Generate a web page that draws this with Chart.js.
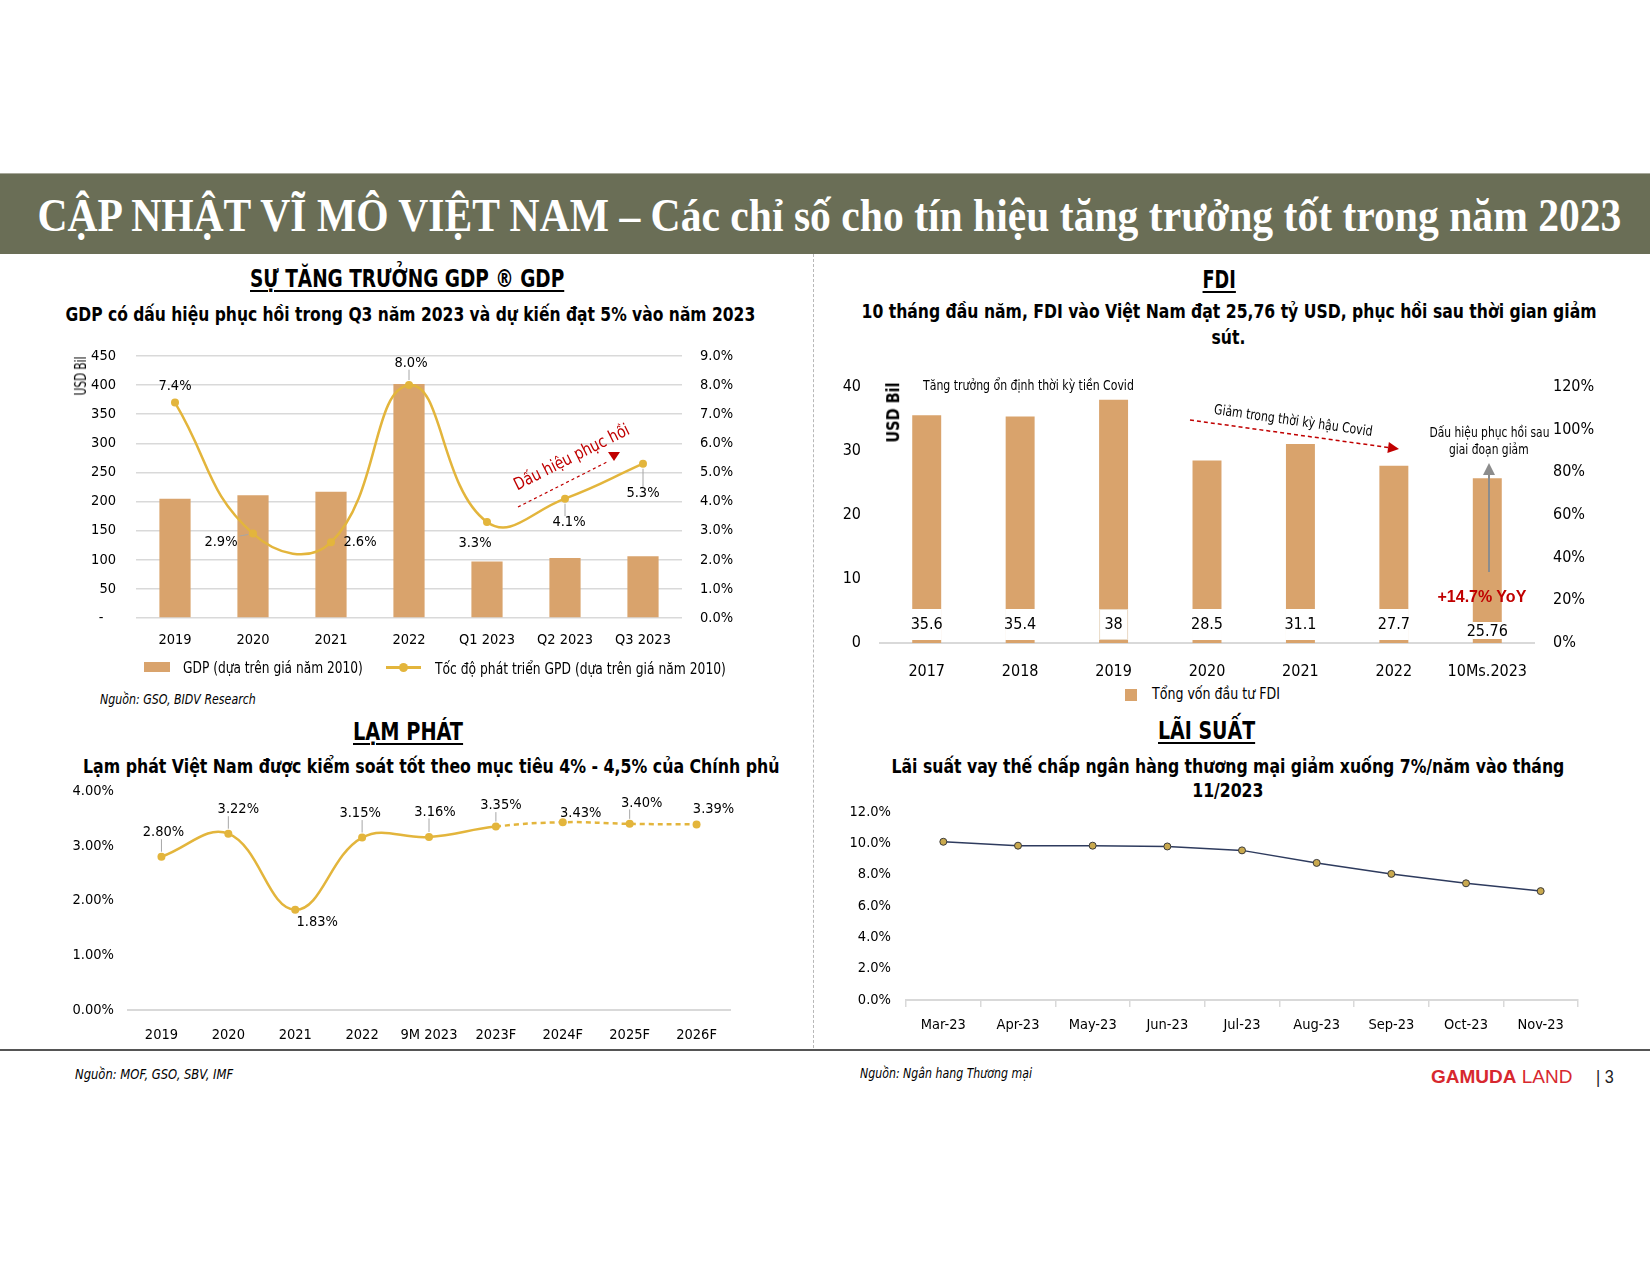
<!DOCTYPE html>
<html>
<head>
<meta charset="utf-8">
<script src="https://cdn.jsdelivr.net/npm/chart.js@4.4.0/dist/chart.umd.min.js"></script>
<style>
  body { margin:0; width:1650px; height:1275px; position:relative; background:#fff; overflow:hidden; }
  .box { position:absolute; }
</style>
</head>
<body>
<div class="box" style="left:0;top:173px;width:1650px;height:80px;background:#6a6e56;border-top:1px solid #a7a89a;"></div>
<div class="box" style="left:813px;top:254px;height:794px;border-left:1.5px dashed #b8b8b8;"></div>
<div class="box" style="left:0;top:1049px;width:1650px;height:2px;background:#555;"></div>
<script>
// --- DATA ---
const gdpPeriods = ['2019', '2020', '2021', '2022', 'Q1 2023', 'Q2 2023', 'Q3 2023'];
const gdpValues = [205, 211, 217, 402, 97, 103, 106];        // USD Bil
const gdpGrowth = [7.4, 2.9, 2.6, 8.0, 3.3, 4.1, 5.3];       // %

const fdiYears = ['2017', '2018', '2019', '2020', '2021', '2022', '10Ms.2023'];
const fdiValues = [35.6, 35.4, 38, 28.5, 31.1, 27.7, 25.76]; // USD Bil

const inflYears = ['2019', '2020', '2021', '2022', '9M 2023', '2023F', '2024F', '2025F', '2026F'];
const inflValues = [2.80, 3.22, 1.83, 3.15, 3.16, 3.35, 3.43, 3.40, 3.39];

const rateMonths = ['Mar-23', 'Apr-23', 'May-23', 'Jun-23', 'Jul-23', 'Aug-23', 'Sep-23', 'Oct-23', 'Nov-23'];
const rateValues = [10.1, 9.85, 9.85, 9.8, 9.55, 8.75, 8.05, 7.45, 6.95];

// --- STYLE ---
const NARROW = "'Liberation Sans Narrow','DejaVu Sans Condensed','Arial Narrow',sans-serif";
const GOLD = '#e3b53c';
const BAR = '#d9a36c';
const RED = '#c00000';
Chart.defaults.font.family = NARROW;
Chart.defaults.font.size = 14;
Chart.defaults.color = '#000';

// --- HELPERS ---
function txt(s, o) {
    const d = document.createElement('div');
    if (o.html) d.innerHTML = s; else d.textContent = s;
    d.style.cssText = 'position:absolute;white-space:nowrap;line-height:1;font:' + o.font + ';color:' + (o.color || '#000') + ';' + (o.css || '');
    document.body.appendChild(d);
    const w = d.offsetWidth, h = d.offsetHeight;
    const sx = o.sx || (o.w ? o.w / w : 1);
    const leftAligned = o.left !== undefined;
    d.style.left = (leftAligned ? o.left : o.cx - w / 2) + 'px';
    d.style.top = (o.cy - h / 2) + 'px';
    d.style.transformOrigin = leftAligned ? 'left center' : 'center center';
    d.style.transform = (o.rot ? 'rotate(' + o.rot + 'deg) ' : '') + 'scaleX(' + sx + ')';
    return sx;
}

function makeCanvas(left, top, w, h) {
    const c = document.createElement('canvas');
    c.width = w; c.height = h;
    c.style.cssText = `position:absolute;left:${left}px;top:${top}px;width:${w}px;height:${h}px`;
    document.body.appendChild(c);
    return c;
}

function arrow(ctx, x1, y1, x2, y2, color, width, dash, head) {
    const a = Math.atan2(y2 - y1, x2 - x1);
    const ex = x2 - Math.cos(a) * head, ey = y2 - Math.sin(a) * head;
    const px = Math.cos(a + Math.PI / 2) * head * 0.5, py = Math.sin(a + Math.PI / 2) * head * 0.5;
    ctx.save();
    ctx.strokeStyle = color; ctx.fillStyle = color; ctx.lineWidth = width;
    ctx.setLineDash(dash || []);
    ctx.beginPath(); ctx.moveTo(x1, y1); ctx.lineTo(ex, ey); ctx.stroke();
    ctx.setLineDash([]);
    ctx.beginPath(); ctx.moveTo(x2, y2); ctx.lineTo(ex + px, ey + py); ctx.lineTo(ex - px, ey - py); ctx.closePath(); ctx.fill();
    ctx.restore();
}

// data labels next to line points, with optional grey leader line
function pointLabels(id, dsIndex, size, fmt, pos) {
    return {
        id: id,
        afterDatasetsDraw(chart) {
            const ctx = chart.ctx;
            const data = chart.data.datasets[dsIndex].data;
            ctx.save();
            ctx.font = size + 'px ' + NARROW;
            ctx.textAlign = 'center';
            ctx.textBaseline = 'middle';
            chart.getDatasetMeta(dsIndex).data.forEach((pt, i) => {
                const [dx, dy, lead] = pos[i];
                const tx = pt.x + dx, ty = pt.y + dy;
                const s = fmt(data[i]);
                if (lead) {
                    const hw = ctx.measureText(s).width / 2 + 2, hh = size * 0.45;
                    const ax = Math.min(Math.max(pt.x, tx - hw), tx + hw);
                    const ay = Math.min(Math.max(pt.y, ty - hh), ty + hh);
                    const d = Math.hypot(ax - pt.x, ay - pt.y);
                    if (d > 7) {
                        ctx.strokeStyle = '#a6a6a6'; ctx.lineWidth = 1;
                        ctx.beginPath();
                        ctx.moveTo(pt.x + (ax - pt.x) / d * 5, pt.y + (ay - pt.y) / d * 5);
                        ctx.lineTo(ax, ay);
                        ctx.stroke();
                    }
                }
                ctx.fillStyle = '#000';
                ctx.fillText(s, tx, ty);
            });
            ctx.restore();
        }
    };
}

// force axis box sizes so the plot areas land where the slide has them
const fixW = w => s => { s.width = w; s.paddingTop = 0; s.paddingBottom = 0; };
const fixH = h => s => { s.height = h; s.paddingLeft = 0; s.paddingRight = 0; };
const baseOpts = { responsive: false, animation: false, devicePixelRatio: 1 };
const noLegend = { legend: { display: false }, tooltip: { enabled: false } };
const flat = { maxRotation: 0, minRotation: 0, autoSkip: false };

// --- HEADER & TITLES ---
txt('CẬP NHẬT VĨ MÔ VIỆT NAM – Các chỉ số cho tín hiệu tăng trưởng tốt trong năm 2023',
    { font: "bold 46px 'Liberation Serif',serif", color: '#fff', cx: 829, cy: 215, w: 1584 });

const UL = 'text-decoration:underline;text-decoration-thickness:2px;text-underline-offset:3px;';
txt('SỰ TĂNG TRƯỞNG GDP ® GDP', { font: 'bold 25px ' + NARROW, cx: 407, cy: 278, w: 314, css: UL });
txt('GDP có dấu hiệu phục hồi trong Q3 năm 2023 và dự kiến đạt 5% vào năm 2023', { font: 'bold 20px ' + NARROW, cx: 410, cy: 314, w: 690 });

txt('FDI', { font: 'bold 25px ' + NARROW, cx: 1219, cy: 279, w: 33, css: UL });
let s1 = txt('10 tháng đầu năm, FDI vào Việt Nam đạt 25,76 tỷ USD, phục hồi sau thời gian giảm', { font: 'bold 20px ' + NARROW, cx: 1229, cy: 311, w: 735 });
txt('sút.', { font: 'bold 20px ' + NARROW, cx: 1228, cy: 337, sx: s1 });

txt('LẠM PHÁT', { font: 'bold 25px ' + NARROW, cx: 408, cy: 731, w: 110, css: UL });
txt('Lạm phát Việt Nam được kiểm soát tốt theo mục tiêu 4% - 4,5% của Chính phủ', { font: 'bold 20px ' + NARROW, cx: 431, cy: 766, w: 696 });

txt('LÃI SUẤT', { font: 'bold 25px ' + NARROW, cx: 1206, cy: 730, w: 97, css: UL });
let s2 = txt('Lãi suất vay thế chấp ngân hàng thương mại giảm xuống 7%/năm vào tháng', { font: 'bold 20px ' + NARROW, cx: 1228, cy: 766, w: 673 });
txt('11/2023', { font: 'bold 20px ' + NARROW, cx: 1228, cy: 790, sx: s2 });

// --- GDP CHART ---
const gdpCanvas = makeCanvas(60, 340, 700, 320);
new Chart(gdpCanvas, {
    type: 'bar',
    data: {
        labels: gdpPeriods,
        datasets: [
            { type: 'line', data: gdpGrowth, yAxisID: 'y1', borderColor: GOLD, backgroundColor: GOLD, borderWidth: 2.5,
              pointRadius: 4, pointBorderWidth: 0, tension: 0.45, order: 0 },
            { type: 'bar', data: gdpValues, yAxisID: 'y', backgroundColor: BAR, barPercentage: 0.4, categoryPercentage: 1, order: 1 }
        ]
    },
    options: {
        ...baseOpts,
        layout: { padding: { top: 16 } },
        plugins: noLegend,
        scales: {
            x: { grid: { display: false, drawTicks: false }, border: { display: false }, ticks: { ...flat, padding: 14, font: { size: 14.5 } }, afterFit: fixH(42) },
            y: { position: 'left', min: 0, max: 450, ticks: { stepSize: 50, padding: 20, font: { size: 14.5 }, callback: v => v === 0 ? '-   ' : v },
                 grid: { color: '#d9d9d9', lineWidth: 1.5, drawTicks: false }, border: { display: false }, afterFit: fixW(76) },
            y1: { position: 'right', min: 0, max: 9, ticks: { stepSize: 1, padding: 18, font: { size: 14.5 }, callback: v => v.toFixed(1) + '%' },
                  grid: { display: false, drawTicks: false }, border: { display: false }, afterFit: fixW(78) }
        }
    },
    plugins: [
        pointLabels('gdpLabels', 0, 14.5, v => v.toFixed(1) + '%',
            [[0, -16, false], [-32, 9, true], [29, 0, false], [2, -22, true], [-12, 21, false], [4, 24, true], [0, 30, true]]),
        {
            id: 'gdpNote',
            afterDraw(chart) {
                const ctx = chart.ctx;
                ctx.save();
                ctx.translate(-60, -340);
                // dashed recovery arrow
                ctx.strokeStyle = RED; ctx.lineWidth = 1.2; ctx.setLineDash([3, 3]);
                ctx.beginPath(); ctx.moveTo(518, 507); ctx.lineTo(609, 461); ctx.stroke();
                ctx.setLineDash([]);
                ctx.fillStyle = RED;
                ctx.beginPath(); ctx.moveTo(608, 452); ctx.lineTo(620, 452); ctx.lineTo(614, 461); ctx.closePath(); ctx.fill();
                // rotated label
                ctx.translate(572, 458);
                ctx.rotate(-26.6 * Math.PI / 180);
                ctx.font = '17px ' + NARROW;
                const w = ctx.measureText('Dấu hiệu phục hồi').width;
                ctx.scale(127 / w, 1);
                ctx.textAlign = 'center'; ctx.textBaseline = 'middle';
                ctx.fillText('Dấu hiệu phục hồi', 0, 0);
                ctx.restore();
            }
        }
    ]
});
txt('USD Bil', { font: '15px ' + NARROW, cx: 81, cy: 376, w: 39, rot: -90 });

// GDP legend + source
document.body.insertAdjacentHTML('beforeend',
    '<div class="box" style="left:144px;top:662px;width:26px;height:10px;background:' + BAR + '"></div>' +
    '<div class="box" style="left:386px;top:666px;width:35px;height:2.5px;background:' + GOLD + '"></div>' +
    '<div class="box" style="left:399px;top:663px;width:9px;height:9px;border-radius:50%;background:' + GOLD + '"></div>');
txt('GDP (dựa trên giá năm 2010)', { font: '16px ' + NARROW, left: 183, cy: 667, w: 180 });
txt('Tốc độ phát triển GPD (dựa trên giá năm 2010)', { font: '16px ' + NARROW, left: 435, cy: 668, w: 291 });
txt('Nguồn: GSO, BIDV Research', { font: 'italic 14px ' + NARROW, left: 100, cy: 699, w: 156 });

// --- FDI CHART ---
const fdiLabelBox = [[34, 3, 18], [34, 3, 18], [34, 3, 18], [34, 3, 18], [34, 3, 18], [34, 3, 18], [21, 4, 11]];
const fdiCanvas = makeCanvas(820, 370, 830, 310);
new Chart(fdiCanvas, {
    type: 'bar',
    data: {
        labels: fdiYears,
        datasets: [{ data: fdiValues, yAxisID: 'y', backgroundColor: BAR, barPercentage: 0.31, categoryPercentage: 1 }]
    },
    options: {
        ...baseOpts,
        layout: { padding: { top: 17 } },
        plugins: noLegend,
        scales: {
            x: { grid: { display: false, drawTicks: false }, border: { display: true, color: '#d9d9d9', width: 2 },
                 ticks: { ...flat, padding: 19, font: { size: 16 } }, afterFit: fixH(37) },
            y: { position: 'left', min: 0, max: 40, ticks: { stepSize: 10, padding: 19, font: { size: 16 } },
                 grid: { display: false, drawTicks: false }, border: { display: false }, afterFit: fixW(60) },
            y1: { position: 'right', min: 0, max: 120, ticks: { stepSize: 20, padding: 19, font: { size: 16 }, callback: v => v + '%' },
                  grid: { display: false, drawTicks: false }, border: { display: false }, afterFit: fixW(116) }
        }
    },
    plugins: [{
        id: 'fdiNotes',
        afterDraw(chart) {
            const ctx = chart.ctx;
            const base = chart.scales.y.getPixelForValue(0);
            ctx.save();
            ctx.font = '16px ' + NARROW;
            ctx.textAlign = 'center'; ctx.textBaseline = 'middle';
            chart.getDatasetMeta(0).data.forEach((bar, i) => {
                const [top, bottom, mid] = fdiLabelBox[i];
                const w = bar.width;
                ctx.fillStyle = '#fff';
                ctx.fillRect(bar.x - w / 2 - 0.5, base - top, w + 1, top - bottom);
                if (i === 2) {
                    ctx.strokeStyle = '#eadbc8'; ctx.lineWidth = 1;
                    ctx.strokeRect(bar.x - w / 2 + 0.5, base - top + 0.5, w - 1, top - bottom - 1);
                }
                ctx.fillStyle = '#000';
                ctx.fillText(String(fdiValues[i]), bar.x, base - mid);
            });
            ctx.translate(-820, -370);
            arrow(ctx, 1190, 420, 1399, 449, RED, 1.5, [4, 3], 11);
            arrow(ctx, 1489, 572, 1489, 463, '#8c8c8c', 2, null, 12);
            ctx.restore();
        }
    }]
});
txt('USD Bil', { font: 'bold 18px ' + NARROW, cx: 892, cy: 412, w: 60, rot: -90 });
txt('Tăng trưởng ổn định thời kỳ tiền Covid', { font: '14px ' + NARROW, left: 923, cy: 385, w: 211 });
txt('Giảm trong thời kỳ hậu Covid', { font: '14px ' + NARROW, cx: 1293, cy: 420, w: 160, rot: 8 });
let s3 = txt('Dấu hiệu phục hồi sau', { font: '14px ' + NARROW, cx: 1489, cy: 432, w: 120 });
txt('giai đoạn giảm', { font: '14px ' + NARROW, cx: 1489, cy: 449, sx: s3 });
txt('+14.7% YoY', { font: "bold 16px 'Liberation Sans',sans-serif", color: RED, cx: 1482, cy: 597, w: 89 });
document.body.insertAdjacentHTML('beforeend',
    '<div class="box" style="left:1125px;top:689px;width:12px;height:12px;background:' + BAR + '"></div>');
txt('Tổng vốn đầu tư FDI', { font: '15px ' + NARROW, left: 1152, cy: 694, w: 128 });

// --- INFLATION CHART ---
const inflCanvas = makeCanvas(40, 775, 710, 280);
new Chart(inflCanvas, {
    type: 'line',
    data: {
        labels: inflYears,
        datasets: [{
            data: inflValues, borderColor: GOLD, backgroundColor: GOLD, borderWidth: 2.5,
            pointRadius: 4, pointBorderWidth: 0, tension: 0.4,
            segment: { borderDash: c => c.p0DataIndex >= 5 ? [5, 4] : undefined }
        }]
    },
    options: {
        ...baseOpts,
        layout: { padding: { top: 16, right: 20 } },
        plugins: noLegend,
        scales: {
            x: { offset: true, grid: { display: false, drawTicks: false }, border: { display: true, color: '#d9d9d9', width: 2 },
                 ticks: { ...flat, padding: 17, font: { size: 14.5 } }, afterFit: fixH(45) },
            y: { min: 0, max: 4, ticks: { stepSize: 1, padding: 14, font: { size: 14.5 }, callback: v => v.toFixed(2) + '%' },
                 grid: { display: false, drawTicks: false }, border: { display: false }, afterFit: fixW(88) }
        }
    },
    plugins: [pointLabels('inflLabels', 0, 14.5, v => v.toFixed(2) + '%',
        [[2, -24, true], [10, -24, true], [22, 12, false], [-2, -24, true], [6, -25, true],
         [5, -21, true], [18, -9, false], [12, -21, true], [17, -15, false]])]
});

// --- INTEREST RATE CHART ---
const rateCanvas = makeCanvas(820, 795, 780, 245);
new Chart(rateCanvas, {
    type: 'line',
    data: {
        labels: rateMonths,
        datasets: [{
            data: rateValues, borderColor: '#2e3b5e', borderWidth: 1.5, tension: 0,
            pointRadius: 3.5, pointBackgroundColor: '#c9a94e', pointBorderColor: '#3a3a3a', pointBorderWidth: 1
        }]
    },
    options: {
        ...baseOpts,
        layout: { padding: { top: 17, right: 22 } },
        plugins: noLegend,
        scales: {
            x: { offset: true, grid: { display: true, offset: true, drawOnChartArea: false, drawTicks: true, tickLength: 7, color: '#d9d9d9', lineWidth: 1.5 },
                 border: { display: true, color: '#d9d9d9', width: 2 }, ticks: { ...flat, padding: 10, font: { size: 14.5 } }, afterFit: fixH(40) },
            y: { min: 0, max: 12, ticks: { stepSize: 2, padding: 15, font: { size: 14.5 }, callback: v => v.toFixed(1) + '%' },
                 grid: { display: false, drawTicks: false }, border: { display: false }, afterFit: fixW(86) }
        }
    }
});

// --- FOOTER ---
txt('Nguồn: MOF, GSO, SBV, IMF', { font: 'italic 14px ' + NARROW, left: 75, cy: 1074, w: 158 });
txt('Nguồn: Ngân hang Thương mại', { font: 'italic 14px ' + NARROW, left: 860, cy: 1073, w: 172 });
txt('<span style="font-weight:700">GAMUDA</span> LAND', { html: true, font: "19px 'Liberation Sans',sans-serif", color: '#d7282f', left: 1431, cy: 1077, w: 141 });
txt('| 3', { font: "18px 'Liberation Sans',sans-serif", color: '#222', left: 1596, cy: 1077, w: 18 });
</script>
</body>
</html>
